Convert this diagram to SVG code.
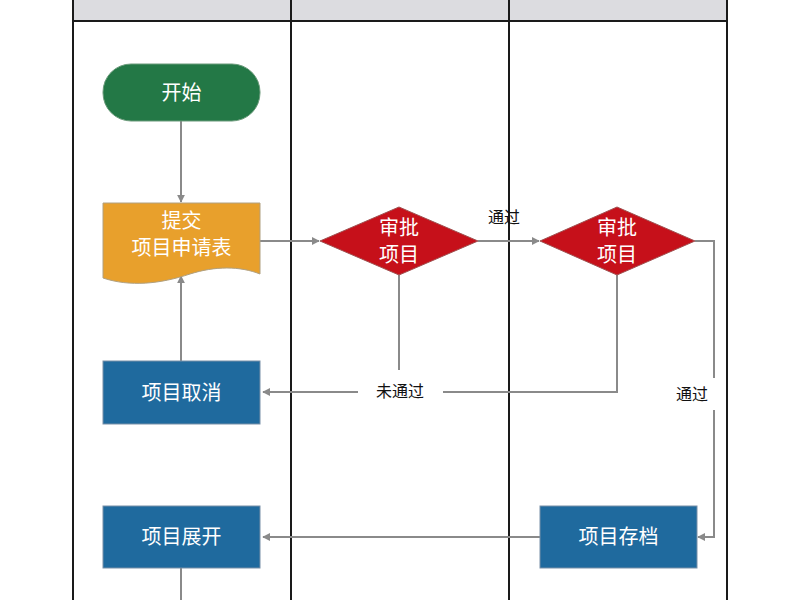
<svg xmlns="http://www.w3.org/2000/svg" width="800" height="600" viewBox="0 0 800 600">
<defs>
<marker id="arr" viewBox="0 0 10 10" refX="9" refY="5" markerWidth="8" markerHeight="8" markerUnits="userSpaceOnUse" orient="auto">
<path d="M0,0 L10,5 L0,10 Z" fill="#8a8a8a"/>
</marker>
</defs>
<style>
.lane{stroke:#1a1a1a;stroke-width:2;fill:none}
.conn{stroke:#8a8a8a;stroke-width:2;fill:none}
.nt{font-family:"Noto Sans CJK SC","Noto Sans",sans-serif;font-size:20px;font-weight:400;fill:#ffffff;text-anchor:middle}
.lbl{font-family:"Noto Sans CJK SC","Noto Sans",sans-serif;font-size:16px;font-weight:400;fill:#111111;text-anchor:middle}
</style>
<rect width="800" height="600" fill="#ffffff"/>
<g id="lanes">
<rect x="73" y="0" width="654" height="21" fill="#dcdce0"/>
<line class="lane" x1="73" y1="21" x2="727" y2="21"/>
<line class="lane" x1="73" y1="0" x2="73" y2="600"/>
<line class="lane" x1="291" y1="0" x2="291" y2="600"/>
<line class="lane" x1="509" y1="0" x2="509" y2="600"/>
<line class="lane" x1="727" y1="0" x2="727" y2="600"/>
</g>
<g id="connectors">
<line class="conn" x1="181" y1="121" x2="181" y2="202" marker-end="url(#arr)"/>
<line class="conn" x1="260" y1="241" x2="319" y2="241" marker-end="url(#arr)"/>
<line class="conn" x1="478" y1="241" x2="539" y2="241" marker-end="url(#arr)"/>
<polyline class="conn" points="695,241 714,241 714,378"/>
<polyline class="conn" points="714,410 714,537 698,537" marker-end="url(#arr)"/>
<line class="conn" x1="399" y1="275" x2="399" y2="370"/>
<polyline class="conn" points="617,275 617,392 443,392"/>
<line class="conn" x1="358" y1="392" x2="263" y2="392" marker-end="url(#arr)"/>
<line class="conn" x1="181" y1="361" x2="181" y2="276" marker-end="url(#arr)"/>
<line class="conn" x1="540" y1="537" x2="263" y2="537" marker-end="url(#arr)"/>
<line class="conn" x1="181" y1="568" x2="181" y2="600"/>
<text class="lbl" x="504" y="223">通过</text>
<text class="lbl" x="400" y="397">未通过</text>
<text class="lbl" x="692" y="400">通过</text>
</g>
<g id="start">
<rect x="103" y="64" width="157" height="57" rx="28" fill="#237846" stroke="#6a9a7a" stroke-width="1"/>
<text class="nt" x="181.5" y="100">开始</text>
</g>
<g id="submit">
<path d="M103,203 H260 V274 C240,266 215,266 190,274 C160,284 130,287 103,278 Z" fill="#e8a02c" stroke="#b0a080" stroke-width="1"/>
<text class="nt" x="181.5" y="228">提交</text>
<text class="nt" x="181.5" y="255">项目申请表</text>
</g>
<g id="review1">
<polygon points="399,207 478,241 399,275 320,241" fill="#c6101a" stroke="#a05050" stroke-width="1"/>
<text class="nt" x="399" y="235">审批</text>
<text class="nt" x="399" y="262">项目</text>
</g>
<g id="review2">
<polygon points="617,207 695,241 617,275 540,241" fill="#c6101a" stroke="#a05050" stroke-width="1"/>
<text class="nt" x="617" y="235">审批</text>
<text class="nt" x="617" y="262">项目</text>
</g>
<g id="cancel">
<rect x="103" y="361" width="157" height="63" fill="#1f6a9e" stroke="#7890a8" stroke-width="1"/>
<text class="nt" x="181.5" y="400">项目取消</text>
</g>
<g id="launch">
<rect x="103" y="506" width="157" height="62" fill="#1f6a9e" stroke="#7890a8" stroke-width="1"/>
<text class="nt" x="181.5" y="544">项目展开</text>
</g>
<g id="archive">
<rect x="540" y="506" width="157" height="62" fill="#1f6a9e" stroke="#7890a8" stroke-width="1"/>
<text class="nt" x="618.5" y="544">项目存档</text>
</g>
</svg>
